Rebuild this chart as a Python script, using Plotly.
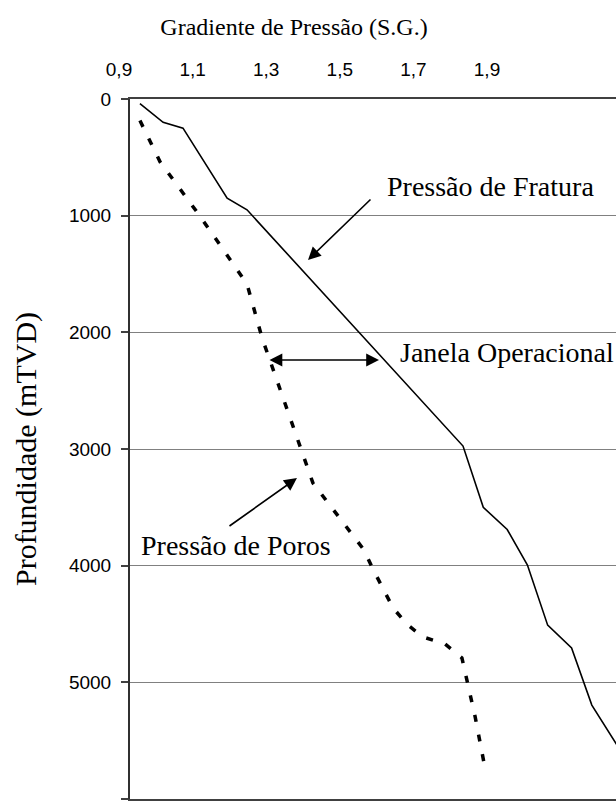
import plotly.graph_objects as go

# ---- data ----
frat_grad = [0.927, 0.99, 1.044, 1.12, 1.164, 1.218, 1.805, 1.86, 1.925, 1.98, 2.035, 2.10, 2.155, 2.24]
frat_depth = [40, 200, 250, 635, 850, 950, 2975, 3500, 3690, 3995, 4510, 4705, 5195, 5620]

pore_grad = [0.927, 0.982, 1.090, 1.218, 1.259, 1.362, 1.397, 1.536, 1.560, 1.615, 1.655,
             1.696, 1.756, 1.802, 1.816, 1.838, 1.862]
pore_depth = [185, 540, 1003, 1586, 2049, 2983, 3291, 3866, 4029, 4363, 4509,
              4611, 4671, 4791, 4980, 5297, 5690]

x_tickvals = [0.9, 1.1, 1.3, 1.5, 1.7, 1.9]
x_ticktext = ["0,9", "1,1", "1,3", "1,5", "1,7", "1,9"]
y_tickvals = [0, 1000, 2000, 3000, 4000, 5000, 6000]
y_ticktext = ["0", "1000", "2000", "3000", "4000", "5000", "6000"]

x_title = "Gradiente de Pressão (S.G.)"
y_title = "Profundidade (mTVD)"

# labels: (text, x, y)
labels = [
    ("Pressão de Fratura", 1.593, 754),
    ("Janela Operacional", 1.627, 2177),
    ("Pressão de Poros", 0.9235, 3831),
]
# arrows: (head_x, head_y, tail_x, tail_y, double)
arrows = [
    (1.3837, 1380, 1.5576, 849, False),
    (1.5766, 2237, 1.275, 2237, True),
    (1.3538, 3249, 1.1663, 3669, False),
]

SERIF = "Liberation Serif"
SANS = "Liberation Sans"

fig = go.Figure()
fig.add_trace(go.Scatter(x=frat_grad, y=frat_depth, mode="lines",
                         line=dict(color="black", width=1.6), showlegend=False))
fig.add_trace(go.Scatter(x=pore_grad, y=pore_depth, mode="lines",
                         line=dict(color="black", width=3.5, dash="7px,13px"), showlegend=False))

annotations = []
for text, x, y in labels:
    annotations.append(dict(x=x, y=y, xref="x", yref="y", text=text, showarrow=False,
                            xanchor="left", yanchor="middle",
                            font=dict(family=SERIF, size=28, color="black")))
for hx, hy, tx, ty, dbl in arrows:
    annotations.append(dict(x=hx, y=hy, ax=tx, ay=ty, xref="x", yref="y", axref="x", ayref="y",
                            text="", showarrow=True, arrowhead=2, arrowsize=1.6, arrowwidth=1.6,
                            arrowcolor="black", startarrowhead=2, startarrowsize=1.6,
                            arrowside="end+start" if dbl else "end", standoff=0, startstandoff=0))

fig.update_layout(
    width=616, height=808,
    margin=dict(l=130, r=0, t=99, b=9),
    paper_bgcolor="white", plot_bgcolor="white",
    annotations=annotations,
    title=dict(text=x_title, font=dict(family=SERIF, size=24, color="black"),
               x=(294 - 130) / 486, xref="paper", xanchor="center",
               y=1 - 27 / 808, yref="container", yanchor="middle"),
    xaxis=dict(side="top", range=[0.9, 2.2207], tickvals=x_tickvals, ticktext=x_ticktext,
               showgrid=False, zeroline=False, showline=True, mirror=True,
               linecolor="#404040", linewidth=2, ticks="",
               ticklabelshift=-11, ticklabelstandoff=13,
               tickfont=dict(family=SANS, size=19, color="black")),
    yaxis=dict(range=[6000, 0], tickvals=y_tickvals, ticktext=y_ticktext,
               showgrid=True, gridcolor="#808080", gridwidth=1, zeroline=False,
               showline=True, linecolor="#303030", linewidth=2,
               ticks="outside", ticklen=7, tickwidth=1.5, tickcolor="#404040",
               ticklabelstandoff=6,
               tickfont=dict(family=SANS, size=19, color="black"),
               title=dict(text=y_title, font=dict(family=SERIF, size=30, color="black"), standoff=23)),
)

fig.write_html("out.html")
